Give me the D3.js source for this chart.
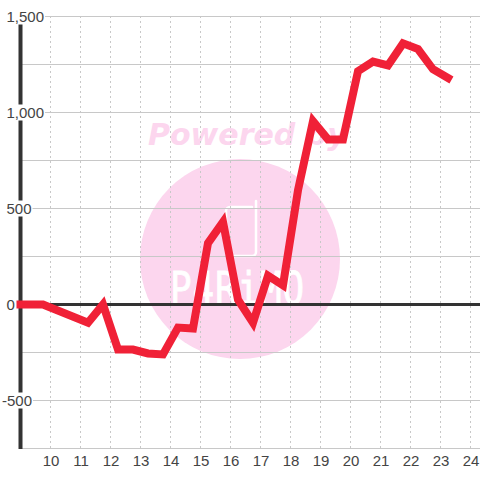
<!DOCTYPE html>
<html><head><meta charset="utf-8">
<script src="https://cdn.jsdelivr.net/npm/d3@7/dist/d3.min.js"></script>
<style>html,body{margin:0;padding:0;background:#fff}svg{display:block}</style></head>
<body><svg id="c" width="480" height="480"></svg>
<script>
const xTicks=[10,11,12,13,14,15,16,17,18,19,20,21,22,23,24];
const yLabels=[1500,1000,500,0,-500];
const yGrid=[1500,1250,1000,750,500,250,-250,-500,-750];
const hours=[9,9.75,11.25,11.75,12.25,12.75,13.25,13.75,14.25,14.75,15.25,15.75,16.25,16.75,17.25,17.75,18.25,18.75,19.25,19.75,20.25,20.75,21.25,21.75,22.25,22.75,23.25];
const values=[0,0,-95,0,-235,-235,-255,-260,-120,-125,320,430,25,-95,150,100,595,955,860,860,1215,1265,1245,1360,1330,1225,1180];
const svg=d3.select('#c');
const x=d3.scaleLinear().domain([9,24]).range([20.5,470.5]);
const y=d3.scaleLinear().domain([1500,-750]).range([16.5,448.5]);
const fmt=d3.format(',');
// watermark
svg.append('circle').attr('cx',240).attr('cy',259).attr('r',100).attr('fill','#fcd6ee');
svg.append('text').attr('x',148).attr('y',145).text('Powered by')
 .attr('font-family','DejaVu Sans').attr('font-weight','bold').attr('font-style','italic').attr('font-size',30).attr('fill','#fcd6ee');
svg.append('path').attr('d','M252 207H230a4 4 0 0 0 -4 4V252a4 4 0 0 0 4 4H252a4 4 0 0 0 4 -4V201')
 .attr('fill','none').attr('stroke','#fff').attr('stroke-width',2.5).attr('stroke-linecap','round');
svg.append('text').attr('transform','translate(170,304) scale(1.2,1.5)').text('P4RiMO')
 .attr('font-family','DejaVu Sans Mono').attr('font-size',30).attr('letter-spacing',0.7).attr('fill','#fff').attr('stroke','#fff').attr('stroke-width',0.5);
// grid
svg.append('g').selectAll('line').data(yGrid).join('line')
 .attr('x1',20).attr('x2',480).attr('y1',d=>y(d)).attr('y2',d=>y(d)).attr('stroke','#c8c8c8').attr('stroke-width',1);
svg.append('g').selectAll('line').data(xTicks).join('line')
 .attr('x1',d=>x(d)).attr('x2',d=>x(d)).attr('y1',16).attr('y2',448).attr('stroke','#c8c8c8').attr('stroke-dasharray','2,3');
// axes
svg.append('line').attr('x1',20.5).attr('x2',20.5).attr('y1',24).attr('y2',449).attr('stroke','#333').attr('stroke-width',4);
svg.append('line').attr('x1',20).attr('x2',480).attr('y1',y(0)).attr('y2',y(0)).attr('stroke','#333').attr('stroke-width',3);
// labels
const lab=svg.append('g').attr('font-family','Liberation Sans').attr('font-size',15).attr('fill','#444');
yLabels.forEach(v=>{
 const s=fmt(v).replace('\u2212','-');
 const t=lab.append('text').attr('x',v<0?2:6.5).attr('y',y(v)+5).text(s);
 const b=t.node().getBBox();
 lab.insert('rect','text').attr('x',0).attr('y',y(v)-8).attr('width',b.x+b.width+1).attr('height',16).attr('fill','#fff');
});
lab.selectAll('.xl').data(xTicks).join('text').attr('class','xl').attr('x',d=>x(d)+0.5).attr('y',466).attr('text-anchor','middle').text(d=>d);
// line
svg.append('path').attr('d',d3.line().x((d,i)=>x(hours[i])).y(d=>y(d))(values)).attr('fill','none').attr('stroke','#f02137').attr('stroke-width',8).attr('stroke-linejoin','miter').attr('stroke-linecap','square');
</script></body></html>
